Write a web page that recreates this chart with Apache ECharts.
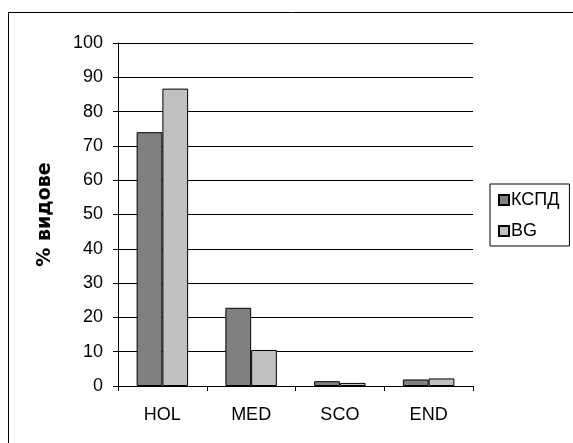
<!DOCTYPE html>
<html>
<head>
<meta charset="utf-8">
<script src="https://cdn.jsdelivr.net/npm/echarts@6/dist/echarts.min.js"></script>
<style>
html,body{margin:0;padding:0;background:#fff;}
#chart{width:573px;height:443px;}
</style>
</head>
<body>
<div id="chart"></div>
<script>
const categories = ['HOL', 'MED', 'SCO', 'END'];
const seriesNames = ['КСПД', 'BG'];
const kspdValues = [74, 22.8, 1.4, 1.9];
const bgValues = [86.7, 10.5, 0.9, 2.2];
const yTicks = { min: 0, max: 100, interval: 10 };
const yAxisTitle = '% видове';

const chart = echarts.init(document.getElementById('chart'), null, { renderer: 'canvas' });
const font = '"Liberation Sans", Arial, sans-serif';
chart.setOption({
  animation: false,
  backgroundColor: '#fff',
  graphic: [{
    type: 'rect',
    shape: { x: 8.5, y: 12.5, width: 700, height: 600 },
    style: { fill: 'none', stroke: '#000', lineWidth: 1 },
    silent: true
  }],
  grid: { left: 118, right: 100, top: 43, bottom: 57, containLabel: false },
  legend: {
    orient: 'vertical',
    left: 490,
    top: 184,
    padding: [7, 10, 6, 8],
    borderColor: '#000',
    borderWidth: 1,
    itemWidth: 10,
    itemHeight: 10,
    itemGap: 13,
    icon: 'rect',
    textStyle: { fontFamily: font, fontSize: 18, color: '#000', lineHeight: 18, padding: [0, 0, 0, -3] },
    data: seriesNames
  },
  xAxis: {
    type: 'category',
    data: categories,
    boundaryGap: true,
    axisLine: { show: true, lineStyle: { color: '#000', width: 1 } },
    axisTick: { show: true, length: 5, alignWithLabel: false, lineStyle: { color: '#000' } },
    axisLabel: { fontFamily: font, fontSize: 18, color: '#000', margin: 20 },
    splitLine: { show: false }
  },
  yAxis: {
    type: 'value',
    min: yTicks.min,
    max: yTicks.max,
    interval: yTicks.interval,
    name: yAxisTitle,
    nameLocation: 'middle',
    nameGap: 63,
    nameRotate: 90,
    nameTextStyle: { fontFamily: '"DejaVu Sans", sans-serif', fontSize: 19, fontWeight: 'bold', color: '#000' },
    axisLine: { show: true, lineStyle: { color: '#000', width: 1 } },
    axisTick: { show: true, length: 5, inside: false, lineStyle: { color: '#000' } },
    axisLabel: { fontFamily: font, fontSize: 18, color: '#000', margin: 15 },
    splitLine: { show: true, lineStyle: { color: '#000', width: 1 } }
  },
  series: [
    {
      name: seriesNames[0],
      type: 'bar',
      data: kspdValues,
      barGap: '0%',
      barCategoryGap: '42%',
      itemStyle: { color: '#808080', borderColor: '#000', borderWidth: 1 }
    },
    {
      name: seriesNames[1],
      type: 'bar',
      data: bgValues,
      barGap: '0%',
      barCategoryGap: '42%',
      itemStyle: { color: '#c0c0c0', borderColor: '#000', borderWidth: 1 }
    }
  ]
});
</script>
</body>
</html>
